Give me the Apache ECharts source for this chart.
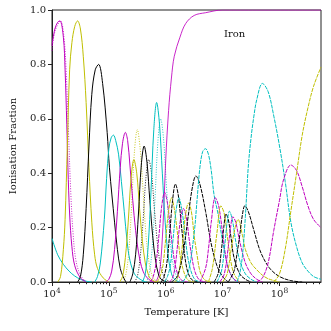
<!DOCTYPE html>
<html>
<head>
<meta charset="utf-8">
<script src="https://cdn.jsdelivr.net/npm/echarts@6/dist/echarts.min.js"></script>
<style>
  html, body { margin: 0; padding: 0; background: #fff; }
  #chart { width: 331px; height: 331px; }
</style>
</head>
<body>
<div id="chart"></div>
<script>
// ion fractions, pairs of [log10 T, fraction]
// main set: Fe I .. Fe XXVII
const fe01 = [[4.0,0.16],[4.1,0.1],[4.2,0.065],[4.3,0.04],[4.4,0.022],[4.5,0.01],[4.6,0.003],[4.7,0]];
const fe02 = [[4.0,0.87],[4.05,0.93],[4.1,0.955],[4.14,0.96],[4.2,0.9],[4.23,0.78],[4.26,0.58],[4.28,0.42],[4.31,0.25],[4.35,0.13],[4.4,0.06],[4.5,0.015],[4.6,0]];
const fe03 = [[4.1,0],[4.15,0.02],[4.2,0.12],[4.23,0.23],[4.27,0.5],[4.31,0.78],[4.35,0.88],[4.4,0.94],[4.45,0.96],[4.5,0.93],[4.55,0.83],[4.6,0.66],[4.65,0.42],[4.7,0.22],[4.75,0.1],[4.8,0.05],[4.9,0.015],[5.0,0]];
const fe04 = [[4.45,0],[4.5,0.02],[4.55,0.1],[4.6,0.27],[4.65,0.5],[4.7,0.69],[4.76,0.78],[4.82,0.8],[4.89,0.73],[4.97,0.55],[5.01,0.42],[5.1,0.22],[5.15,0.12],[5.2,0.05],[5.25,0.02],[5.3,0]];
const fe05 = [[4.75,0],[4.8,0.02],[4.85,0.07],[4.92,0.23],[4.96,0.38],[5.0,0.49],[5.04,0.53],[5.08,0.54],[5.12,0.52],[5.17,0.47],[5.22,0.37],[5.27,0.26],[5.32,0.15],[5.37,0.08],[5.45,0.03],[5.55,0.01],[5.65,0]];
const fe06 = [[4.95,0],[5.0,0.01],[5.05,0.04],[5.1,0.12],[5.15,0.26],[5.2,0.42],[5.24,0.51],[5.29,0.55],[5.33,0.52],[5.37,0.43],[5.42,0.3],[5.47,0.19],[5.52,0.11],[5.6,0.04],[5.7,0.01],[5.8,0]];
const fe07 = [[5.19,0],[5.24,0.02],[5.29,0.09],[5.34,0.22],[5.39,0.38],[5.44,0.45],[5.49,0.4],[5.54,0.27],[5.59,0.15],[5.64,0.07],[5.69,0.03],[5.74,0.01],[5.84,0]];
const fe08 = [[5.37,0],[5.42,0.03],[5.47,0.1],[5.52,0.25],[5.57,0.43],[5.62,0.5],[5.67,0.44],[5.72,0.3],[5.77,0.17],[5.82,0.08],[5.87,0.03],[5.92,0.01],[6.02,0]];
const fe09 = [[5.59,0],[5.64,0.03],[5.69,0.13],[5.74,0.33],[5.79,0.56],[5.84,0.66],[5.89,0.58],[5.94,0.4],[5.99,0.22],[6.04,0.1],[6.09,0.04],[6.14,0.013],[6.24,0]];
const fe10 = [[5.73,0],[5.78,0.02],[5.83,0.07],[5.88,0.17],[5.93,0.28],[5.98,0.33],[6.03,0.29],[6.08,0.2],[6.13,0.11],[6.18,0.05],[6.23,0.02],[6.28,0.007],[6.38,0]];
const fe11 = [[5.85,0],[5.9,0.02],[5.95,0.06],[6.0,0.16],[6.05,0.26],[6.1,0.31],[6.15,0.27],[6.2,0.19],[6.25,0.1],[6.3,0.05],[6.35,0.02],[6.4,0.006],[6.5,0]];
const fe12 = [[5.92,0],[5.97,0.02],[6.02,0.07],[6.07,0.18],[6.12,0.3],[6.17,0.36],[6.22,0.32],[6.27,0.22],[6.32,0.12],[6.37,0.05],[6.42,0.02],[6.47,0.007],[6.57,0]];
const fe13 = [[5.98,0],[6.03,0.02],[6.08,0.06],[6.13,0.16],[6.18,0.26],[6.23,0.31],[6.28,0.27],[6.33,0.19],[6.38,0.1],[6.43,0.05],[6.48,0.02],[6.53,0.006],[6.63,0]];
const fe14 = [[6.06,0],[6.11,0.01],[6.16,0.05],[6.21,0.14],[6.26,0.23],[6.31,0.27],[6.36,0.24],[6.41,0.16],[6.46,0.09],[6.51,0.04],[6.56,0.016],[6.61,0.005],[6.71,0]];
const fe15 = [[6.15,0],[6.2,0.01],[6.25,0.06],[6.3,0.15],[6.35,0.25],[6.4,0.29],[6.45,0.26],[6.5,0.17],[6.55,0.1],[6.6,0.04],[6.65,0.017],[6.7,0.006],[6.8,0]];
const fe16 = [[6.1,0],[6.2,0.02],[6.3,0.1],[6.4,0.25],[6.47,0.35],[6.53,0.39],[6.6,0.36],[6.7,0.26],[6.8,0.14],[6.9,0.06],[7.0,0.02],[7.1,0]];
const fe17 = [[6.3,0],[6.4,0.04],[6.5,0.18],[6.55,0.3],[6.6,0.42],[6.65,0.48],[6.7,0.49],[6.75,0.47],[6.8,0.41],[6.85,0.32],[6.92,0.25],[7.0,0.15],[7.1,0.05],[7.2,0.01],[7.3,0]];
const fe18 = [[6.6,0],[6.7,0.05],[6.75,0.12],[6.8,0.22],[6.87,0.31],[6.93,0.28],[7.0,0.18],[7.05,0.1],[7.1,0.05],[7.2,0.01],[7.3,0]];
const fe19 = [[6.75,0],[6.82,0.05],[6.9,0.18],[6.97,0.28],[7.03,0.25],[7.1,0.14],[7.15,0.07],[7.2,0.03],[7.3,0]];
const fe20 = [[6.85,0],[6.92,0.03],[6.97,0.1],[7.02,0.2],[7.06,0.25],[7.1,0.23],[7.15,0.16],[7.2,0.09],[7.3,0.03],[7.4,0.01],[7.5,0]];
const fe21 = [[6.9,0],[6.98,0.04],[7.04,0.14],[7.08,0.22],[7.12,0.26],[7.17,0.23],[7.23,0.15],[7.3,0.08],[7.4,0.03],[7.5,0.01],[7.6,0]];
const fe22 = [[6.95,0],[7.03,0.03],[7.1,0.13],[7.14,0.2],[7.18,0.24],[7.23,0.22],[7.3,0.15],[7.4,0.07],[7.5,0.03],[7.6,0.01],[7.7,0]];
const fe23 = [[7.0,0],[7.08,0.03],[7.15,0.12],[7.22,0.2],[7.27,0.23],[7.35,0.17],[7.4,0.12],[7.5,0.07],[7.6,0.045],[7.7,0.025],[7.8,0.012],[8.0,0]];
const fe24 = [[7.1,0],[7.2,0.04],[7.25,0.1],[7.3,0.17],[7.35,0.25],[7.39,0.28],[7.45,0.26],[7.55,0.19],[7.65,0.12],[7.75,0.075],[7.85,0.045],[8.0,0.02],[8.2,0.005],[8.4,0]];
const fe25 = [[7.25,0],[7.3,0.03],[7.35,0.1],[7.4,0.24],[7.45,0.42],[7.5,0.53],[7.55,0.61],[7.6,0.67],[7.7,0.73],[7.8,0.7],[7.9,0.61],[8.0,0.5],[8.1,0.37],[8.2,0.22],[8.3,0.13],[8.4,0.07],[8.5,0.04],[8.6,0.02],[8.73,0.01]];
const fe26 = [[7.6,0],[7.7,0.015],[7.8,0.07],[7.9,0.19],[8.0,0.3],[8.07,0.375],[8.2,0.43],[8.3,0.41],[8.4,0.35],[8.5,0.28],[8.6,0.23],[8.73,0.2]];
const fe27 = [[7.9,0],[8.0,0.03],[8.1,0.12],[8.2,0.26],[8.3,0.4],[8.4,0.54],[8.5,0.64],[8.6,0.72],[8.73,0.79]];

// second set, Fe I .. Fe X, only where it departs from the main set
const alt02 = [[4.0,0.85],[4.05,0.92],[4.15,0.96],[4.21,0.9],[4.25,0.77],[4.29,0.55],[4.33,0.33],[4.37,0.18],[4.42,0.08],[4.5,0.025],[4.6,0]];
const alt07 = [[5.25,0],[5.3,0.03],[5.35,0.11],[5.4,0.28],[5.45,0.48],[5.5,0.56],[5.55,0.49],[5.6,0.34],[5.65,0.18],[5.7,0.08],[5.75,0.03],[5.8,0.01],[5.9,0]];
const alt08 = [[5.45,0],[5.5,0.02],[5.55,0.09],[5.6,0.22],[5.65,0.38],[5.7,0.45],[5.75,0.4],[5.8,0.27],[5.85,0.15],[5.9,0.07],[5.95,0.03],[6.0,0.01],[6.1,0]];
const alt09 = [[5.66,0],[5.71,0.03],[5.76,0.12],[5.81,0.3],[5.86,0.51],[5.91,0.6],[5.96,0.53],[6.01,0.36],[6.06,0.2],[6.11,0.09],[6.16,0.04],[6.21,0.012],[6.31,0]];
// last stage of the second set takes up everything above it
const alt10 = [[5.8,0],[5.85,0.01],[5.9,0.05],[5.95,0.2],[6.0,0.45],[6.05,0.63],[6.1,0.75],[6.15,0.83],[6.25,0.9],[6.35,0.95],[6.5,0.98],[6.7,0.99],[7.0,1.0],[8.73,1.0]];

const mainSet = [fe01,fe02,fe03,fe04,fe05,fe06,fe07,fe08,fe09,fe10,fe11,fe12,fe13,fe14,
  fe15,fe16,fe17,fe18,fe19,fe20,fe21,fe22,fe23,fe24,fe25,fe26,fe27];
const altSet = [[2, alt02], [7, alt07], [8, alt08], [9, alt09], [10, alt10]];

const xTicks = [1e4, 1e5, 1e6, 1e7, 1e8];
const yTicks = [0, 0.2, 0.4, 0.6, 0.8, 1.0];

const ionColors = ['#00bfbf', '#bf00bf', '#bfbf00', '#000000']; // c m y k
const xMin = 1e4, xMax = Math.pow(10, 8.73);

const minorTicks = [];
for (let d = 1e4; d < xMax; d *= 10) {
  for (let k = 2; k <= 9; k++) if (d * k < xMax) minorTicks.push(d * k);
}

const toPts = arr => arr.map(p => [Math.pow(10, p[0]), p[1]]);

const series = [];
mainSet.forEach((arr, i) => {
  series.push({
    type: 'line', xAxisIndex: 0, data: toPts(arr), showSymbol: false, smooth: 0.35,
    lineStyle: { color: ionColors[i % 4], width: 1, type: i < 9 ? 'solid' : [4, 1] },
    silent: true, z: 3
  });
});
altSet.forEach(([ion, arr]) => {
  series.push({
    type: 'line', xAxisIndex: 0, data: toPts(arr), showSymbol: false, smooth: 0.35,
    lineStyle: { color: ionColors[(ion - 1) % 4], width: 1, type: ion === 10 ? 'solid' : [1, 1.5], opacity: 0.85 },
    silent: true, z: 2
  });
});

const font = 'DejaVu Serif';
const chart = echarts.init(document.getElementById('chart'));
chart.setOption({
  animation: false,
  backgroundColor: '#fff',
  grid: { left: 49, right: 10, top: 10, bottom: 49, show: true, borderColor: '#222', borderWidth: 1 },
  title: {
    text: 'Iron', left: 219, top: 24,
    textStyle: { fontFamily: font, fontSize: 10, fontWeight: 'normal', color: '#111' }
  },
  xAxis: [{
    type: 'log', logBase: 10, min: xMin, max: xMax,
    name: 'Temperature [K]', nameLocation: 'middle', nameGap: 25,
    nameTextStyle: { fontFamily: font, fontSize: 10, color: '#111' },
    axisLine: { lineStyle: { color: '#222', width: 1 } },
    axisTick: { customValues: xTicks, length: 4, lineStyle: { color: '#222' } },
    axisLabel: {
      customValues: xTicks, margin: 5, fontFamily: font, color: '#222',
      formatter: v => '10{s|' + Math.round(Math.log10(v)) + '}',
      rich: { s: { fontSize: 7.5, fontFamily: font, color: '#222', padding: [0, 0, 7, 0] } },
      fontSize: 10
    },
    splitLine: { show: false }
  }, {
    type: 'log', logBase: 10, min: xMin, max: xMax, position: 'bottom',
    axisLine: { show: false },
    axisTick: { customValues: minorTicks, length: 2.2, lineStyle: { color: '#222' } },
    axisLabel: { show: false },
    splitLine: { show: false }
  }],
  yAxis: {
    type: 'value', min: 0, max: 1, interval: 0.2,
    name: 'Ionisation Fraction', nameLocation: 'middle', nameGap: 34,
    nameTextStyle: { fontFamily: font, fontSize: 10, color: '#111' },
    axisLine: { show: true, lineStyle: { color: '#222', width: 1 } },
    axisTick: { show: true, length: 4, lineStyle: { color: '#222' } },
    axisLabel: { fontFamily: font, fontSize: 10, color: '#222', margin: 6,
      formatter: v => yTicks.includes(+v.toFixed(1)) ? v.toFixed(1) : '' },
    splitLine: { show: false }
  },
  series: series
});
</script>
</body>
</html>
